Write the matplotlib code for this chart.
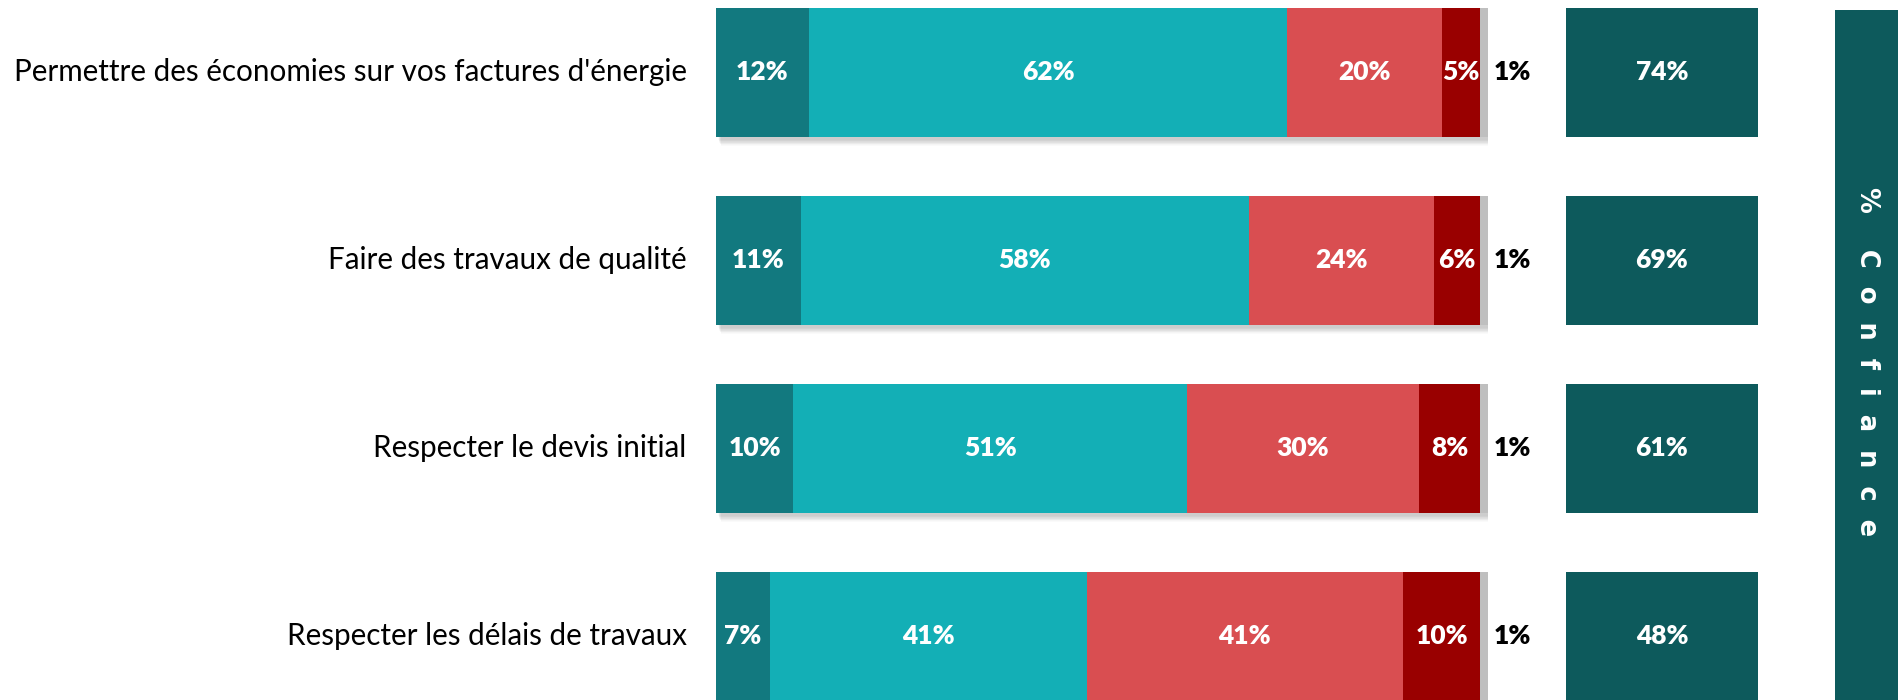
import numpy as np
import matplotlib.pyplot as plt

categories = ["Permettre des économies sur vos factures d'énergie",
              "Faire des travaux de qualité",
              "Respecter le devis initial",
              "Respecter les délais de travaux"]
tout_a_fait = [12, 11, 10, 7]
plutot = [62, 58, 51, 41]
plutot_pas = [20, 24, 30, 41]
pas_du_tout = [5, 6, 8, 10]
nsp = [1, 1, 1, 1]
confiance = [74, 69, 61, 48]

series = [tout_a_fait, plutot, plutot_pas, pas_du_tout, nsp]
colors = ["#12797F", "#13AFB6", "#D94E51", "#990000", "#BFBFBF"]

W, H = 1899, 700
fig = plt.figure(figsize=(W / 100, H / 100), dpi=100)
plt.rcParams['font.family'] = ['Lato', 'DejaVu Sans']

y = np.arange(len(categories))
ylim = (3.340, -0.383)
bh = 0.686

# stacked bars
ax = fig.add_axes([716 / W, 0, 772 / W, 1])
ax.set_xlim(0, 100)
ax.set_ylim(*ylim)
ax.axis("off")

totals = np.sum(series, axis=0)
px_x = 100 / 772
px_y = (ylim[0] - ylim[1]) / H
# soft drop shadow
for k in range(1, 11):
    ax.barh(y + (3 + k * 0.6) * px_y, totals + k * 0.5 * px_x, height=bh,
            left=(2 + k * 0.3) * px_x, color="black", alpha=0.018, zorder=1)

left = np.zeros(len(categories))
for i, (vals, c) in enumerate(zip(series, colors)):
    ax.barh(y, vals, left=left, height=bh, color=c, zorder=2)
    for j, v in enumerate(vals):
        if i < 4:
            ax.text(left[j] + v / 2, y[j], f"{v}%", ha="center", va="center",
                    color="white", fontsize=19, fontweight="heavy", zorder=3)
        else:
            ax.text(left[j] + v + 3.2, y[j], f"{v}%", ha="center", va="center",
                    color="black", fontsize=19, fontweight="heavy",
                    clip_on=False, zorder=3)
    left += np.array(vals)

for j, cat in enumerate(categories):
    ax.text(-3.8, y[j], cat, ha="right", va="center", fontsize=21.3,
            color="black", clip_on=False)

# confidence totals
ax2 = fig.add_axes([1566 / W, 0, 192 / W, 1])
ax2.set_xlim(0, 1)
ax2.set_ylim(*ylim)
ax2.axis("off")
ax2.barh(y, [1] * len(confiance), height=bh, color="#0D5A5C")
for j, v in enumerate(confiance):
    ax2.text(0.5, y[j], f"{v}%", ha="center", va="center", color="white",
             fontsize=19, fontweight="heavy")

# vertical title band
ax3 = fig.add_axes([1835 / W, 0, 64 / W, 690 / H])
ax3.set_facecolor("#0D5A5C")
ax3.set_xticks([])
ax3.set_yticks([])
for s in ax3.spines.values():
    s.set_visible(False)
fig.text(1867 / W, 1 - 362 / H, "%    C  o  n  f  i  a  n  c  e",
         rotation=270, ha="center", va="center", color="white",
         fontsize=18.5, fontweight="bold", family="DejaVu Sans")

fig.savefig("out.png", dpi=100)
